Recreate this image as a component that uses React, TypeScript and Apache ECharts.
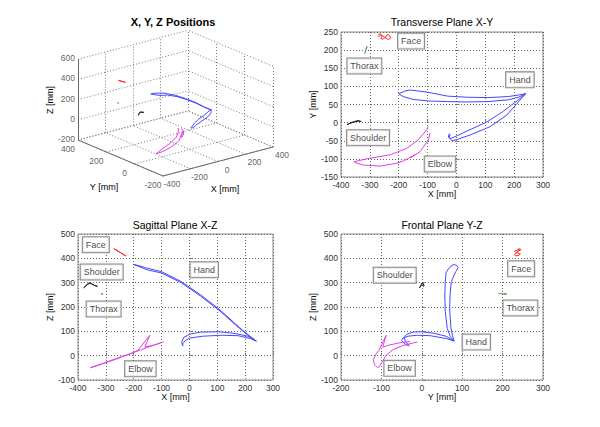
import React, { useEffect, useRef } from "react";
import * as echarts from "echarts";

// ---------- marker trajectories [mm] ----------
const handX = [-22, -25, -15, 0, 48, 117, 175, 220, 240, 215, 180, 110, 40, -30, -100, -150, -185, -200, -175, -160, -100, -30, 40, 110, 180, 215, 240, 210, 160, 106, 40, 0, -20, -28, -25];
const handY = [-32, -42, -50, -47, -34, -11, 21, 62, 80, 70, 63, 58, 57, 58, 60, 64, 72, 80, 88, 90, 84, 73, 70, 69, 72, 76, 80, 60, 30, 2, -22, -37, -44, -40, -30];
const handZ = [40, 48, 62, 72, 80, 84, 82, 70, 60, 80, 112, 183, 245, 300, 340, 352, 368, 375, 368, 362, 345, 305, 250, 188, 115, 82, 60, 80, 92, 98, 97, 88, 75, 55, 42];

const elbowX = [-98, -103, -133, -172, -230, -300, -355, -352, -323, -265, -207, -185, -142, -160, -126, -97, -92];
const elbowY = [-11, -20, -48, -71, -89, -98, -108, -110, -117, -120, -112, -106, -88, -97, -80, -48, -29];
const elbowZ = [56, 53, 41, 25, 1, -27, -50, -48, -38, -15, 10, 22, 84, 35, 44, 55, 58];

const shoulderX = [-380, -372, -365, -358, -350, -340, -330, -342, -356, -370, -378];
const shoulderY = [-6, -3, 0, 2, 4, 6, 3, 4, 1, -2, -5];
const shoulderZ = [278, 286, 296, 300, 294, 288, 285, 290, 298, 290, 280];

const thoraxX = [-318, -316, -314, -312, -310, -313];
const thoraxY = [190, 195, 200, 205, 210, 203];
const thoraxZ = [254, 255, 254, 253, 254, 254];

const faceX = [-272, -265, -258, -262, -255, -245, -238, -232, -228, -236, -248, -262, -270];
const faceY = [240, 246, 238, 232, 230, 236, 244, 240, 233, 229, 235, 243, 236];
const faceZ = [440, 436, 430, 433, 428, 422, 418, 412, 410, 414, 424, 434, 438];

// ---------- label boxes (data coordinates) ----------
const xyLabelNames = ["Face", "Thorax", "Hand", "Shoulder", "Elbow"];
const xyLabelX = [-157, -319, 220, -306, -57];
const xyLabelY = [225, 156, 118, -42, -114];

const xzLabelNames = ["Face", "Shoulder", "Hand", "Thorax", "Elbow"];
const xzLabelX = [-336, -315, 53, -308, -176];
const xzLabelZ = [456, 344, 353, 192, -54];

const yzLabelNames = ["Shoulder", "Face", "Thorax", "Hand", "Elbow"];
const yzLabelY = [-67, 246, 244, 135, -55];
const yzLabelZ = [330, 357, 196, 56, -52];

// ---------- axis limits / ticks ----------
const transverseXLim = [-400, 300];
const transverseYLim = [-150, 250];
const sagittalXLim = [-400, 300];
const sagittalZLim = [-100, 500];
const frontalYLim = [-200, 300];
const frontalZLim = [-100, 500];

const ticks3dX = [-400, -200, 0, 200, 400];
const ticks3dY = [-200, 0, 200, 400];
const ticks3dZ = [-200, 0, 200, 400, 600];

const FONT = "'Liberation Sans', Arial, Helvetica, sans-serif";

const markers = [
  { name: "Hand", x: handX, y: handY, z: handZ, color: "#4646ff" },
  { name: "Elbow", x: elbowX, y: elbowY, z: elbowZ, color: "#e040e0" },
  { name: "Shoulder", x: shoulderX, y: shoulderY, z: shoulderZ, color: "#222222" },
  { name: "Thorax", x: thoraxX, y: thoraxY, z: thoraxZ, color: "#3f8f3f" },
  { name: "Face", x: faceX, y: faceY, z: faceZ, color: "#ff2a2a" },
];

// ---------- 3D view (orthographic projection onto a hidden pixel grid) ----------
const VIEW_O = [163, 176];
const VIEW_UX = [0.1375, -0.03625];
const VIEW_UY = [-0.14167, -0.06];
const VIEW_UZ = [0, -0.10088];

function proj(x: number, y: number, z: number): number[] {
  const dx = x - ticks3dX[0];
  const dy = y - ticks3dY[0];
  const dz = z - ticks3dZ[0];
  return [
    VIEW_O[0] + dx * VIEW_UX[0] + dy * VIEW_UY[0] + dz * VIEW_UZ[0],
    VIEW_O[1] + dx * VIEW_UX[1] + dy * VIEW_UY[1] + dz * VIEW_UZ[1],
  ];
}

function valAxis(grid: number, lim: number[], interval: number, name: string, gap: number) {
  return {
    type: "value",
    gridIndex: grid,
    min: lim[0],
    max: lim[1],
    interval,
    name,
    nameLocation: "middle",
    nameGap: gap,
    nameTextStyle: { fontSize: 9, color: "#111", fontFamily: FONT },
    axisLine: { show: false },
    axisTick: { show: true, inside: true, length: 3, lineStyle: { color: "#777" } },
    axisLabel: {
      fontSize: 8.5,
      color: "#333",
      fontFamily: FONT,
      margin: 3,
      showMinLabel: true,
      showMaxLabel: true,
      hideOverlap: false,
    },
    splitLine: { show: true, lineStyle: { type: [1, 2], color: "#6a6a6a", width: 1 } },
  };
}

function labelSeries(idx: number, names: string[], a: number[], b: number[]) {
  return {
    type: "scatter",
    xAxisIndex: idx,
    yAxisIndex: idx,
    symbolSize: 0,
    silent: true,
    z: 10,
    itemStyle: { color: "transparent" },
    data: names.map((n, i) => ({ name: n, value: [a[i], b[i]] })),
    label: {
      show: true,
      position: "inside",
      formatter: "{b}",
      fontSize: 9,
      lineHeight: 10,
      fontFamily: FONT,
      color: "#111",
      backgroundColor: "#fff",
      borderColor: "#666",
      borderWidth: 1,
      padding: [3, 3, 2, 3],
    },
  };
}

function buildOption() {
  const xMin = ticks3dX[0], xMax = ticks3dX[ticks3dX.length - 1];
  const yMin = ticks3dY[0], yMax = ticks3dY[ticks3dY.length - 1];
  const zMin = ticks3dZ[0], zMax = ticks3dZ[ticks3dZ.length - 1];

  const gridSegs: number[][][] = [];
  ticks3dX.forEach((x) => gridSegs.push([proj(x, yMin, zMin), proj(x, yMax, zMin)]));
  ticks3dY.forEach((y) => gridSegs.push([proj(xMin, y, zMin), proj(xMax, y, zMin)]));
  ticks3dX.forEach((x) => gridSegs.push([proj(x, yMax, zMin), proj(x, yMax, zMax)]));
  ticks3dZ.forEach((z) => gridSegs.push([proj(xMin, yMax, z), proj(xMax, yMax, z)]));
  ticks3dY.forEach((y) => gridSegs.push([proj(xMax, y, zMin), proj(xMax, y, zMax)]));
  ticks3dZ.forEach((z) => gridSegs.push([proj(xMax, yMin, z), proj(xMax, yMax, z)]));

  const axisSegs = [
    [proj(xMin, yMax, zMin), proj(xMin, yMax, zMax)],
    [proj(xMin, yMax, zMin), proj(xMin, yMin, zMin)],
    [proj(xMin, yMin, zMin), proj(xMax, yMin, zMin)],
  ];

  const tickLabel3d = (data: any[], labelCfg: any) => ({
    type: "scatter",
    xAxisIndex: 0,
    yAxisIndex: 0,
    symbolSize: 0,
    silent: true,
    itemStyle: { color: "transparent" },
    data,
    label: {
      show: true,
      formatter: "{b}",
      fontSize: 8.5,
      fontFamily: FONT,
      color: "#333",
      ...labelCfg,
    },
  });

  const series: any[] = [
    {
      type: "lines",
      coordinateSystem: "cartesian2d",
      xAxisIndex: 0,
      yAxisIndex: 0,
      silent: true,
      polyline: false,
      lineStyle: { type: [1, 2], color: "#7a7a7a", width: 1, opacity: 1 },
      data: gridSegs.map((c) => ({ coords: c })),
    },
    {
      type: "lines",
      coordinateSystem: "cartesian2d",
      xAxisIndex: 0,
      yAxisIndex: 0,
      silent: true,
      polyline: false,
      lineStyle: { type: "solid", color: "#666", width: 1, opacity: 1 },
      data: axisSegs.map((c) => ({ coords: c })),
    },
    tickLabel3d(
      ticks3dZ.map((z) => ({ name: String(z), value: proj(xMin, yMax, z) })),
      { position: "left", distance: 3, offset: [0, -1] }
    ),
    tickLabel3d(
      ticks3dY.map((y) => ({ name: String(y), value: proj(xMin, y, zMin) })),
      { position: "inside", offset: [-10, 9] }
    ),
    tickLabel3d(
      ticks3dX.map((x) => ({ name: String(x), value: proj(x, yMin, zMin) })),
      { position: "inside", offset: [9, 8] }
    ),
  ];

  markers.forEach((m) => {
    series.push({
      type: "line",
      xAxisIndex: 0,
      yAxisIndex: 0,
      showSymbol: false,
      symbol: "none",
      silent: true,
      z: 5,
      lineStyle: { color: m.color, width: 1 },
      data: m.x.map((v, i) => proj(v, m.y[i], m.z[i])),
    });
  });

  const planes = [
    { idx: 1, a: "x", b: "y" },
    { idx: 2, a: "x", b: "z" },
    { idx: 3, a: "y", b: "z" },
  ];
  planes.forEach((p) => {
    markers.forEach((m) => {
      const A = (m as any)[p.a] as number[];
      const B = (m as any)[p.b] as number[];
      series.push({
        type: "line",
        xAxisIndex: p.idx,
        yAxisIndex: p.idx,
        showSymbol: false,
        symbol: "none",
        silent: true,
        z: 5,
        lineStyle: { color: m.color, width: 1 },
        data: A.map((v, i) => [v, B[i]]),
      });
    });
  });

  series.push(labelSeries(1, xyLabelNames, xyLabelX, xyLabelY));
  series.push(labelSeries(2, xzLabelNames, xzLabelX, xzLabelZ));
  series.push(labelSeries(3, yzLabelNames, yzLabelY, yzLabelZ));

  const gridStyle = { show: true, borderColor: "#8a8a8a", borderWidth: 1, backgroundColor: "#fff" };

  const txt = (t: string, x: number, y: number, size: number, bold = false, rot = 0) => ({
    type: "text",
    x,
    y,
    rotation: rot,
    silent: true,
    style: {
      text: t,
      fontSize: size,
      fontWeight: bold ? "bold" : "normal",
      fontFamily: FONT,
      fill: "#000",
      align: "center",
      verticalAlign: "middle",
    },
  });

  return {
    animation: false,
    backgroundColor: "#fff",
    grid: [
      { left: 0, top: 0, width: 300, height: 213, show: false },
      { left: 341, top: 32, width: 202, height: 145, ...gridStyle },
      { left: 78, top: 234, width: 195, height: 146, ...gridStyle },
      { left: 341, top: 234, width: 202, height: 146, ...gridStyle },
    ],
    xAxis: [
      { type: "value", gridIndex: 0, min: 0, max: 300, show: false },
      valAxis(1, transverseXLim, 100, "X [mm]", 12),
      valAxis(2, sagittalXLim, 100, "X [mm]", 11),
      valAxis(3, frontalYLim, 100, "Y [mm]", 11),
    ],
    yAxis: [
      { type: "value", gridIndex: 0, min: 0, max: 213, inverse: true, show: false },
      valAxis(1, transverseYLim, 50, "Y [mm]", 21),
      valAxis(2, sagittalZLim, 100, "Z [mm]", 23),
      valAxis(3, frontalZLim, 100, "Z [mm]", 20),
    ],
    series,
    graphic: [
      txt("X, Y, Z Positions", 173, 22, 11, true),
      txt("Transverse Plane X-Y", 442, 22, 10.5),
      txt("Sagittal Plane X-Z", 175, 225, 10.5),
      txt("Frontal Plane Y-Z", 442, 225, 10.5),
      txt("Z [mm]", 50, 100, 9, false, Math.PI / 2),
      txt("Y [mm]", 104, 187, 9),
      txt("X [mm]", 225, 189, 9),
    ],
  };
}

export default function App() {
  const ref = useRef<HTMLDivElement>(null);
  useEffect(() => {
    const chart = echarts.init(ref.current!, null, { renderer: "svg" });
    chart.setOption(buildOption() as any);
    return () => chart.dispose();
  }, []);
  return (
    <div
      ref={ref}
      style={{ position: "absolute", left: 0, top: 0, width: 600, height: 427, background: "#fff" }}
    />
  );
}
